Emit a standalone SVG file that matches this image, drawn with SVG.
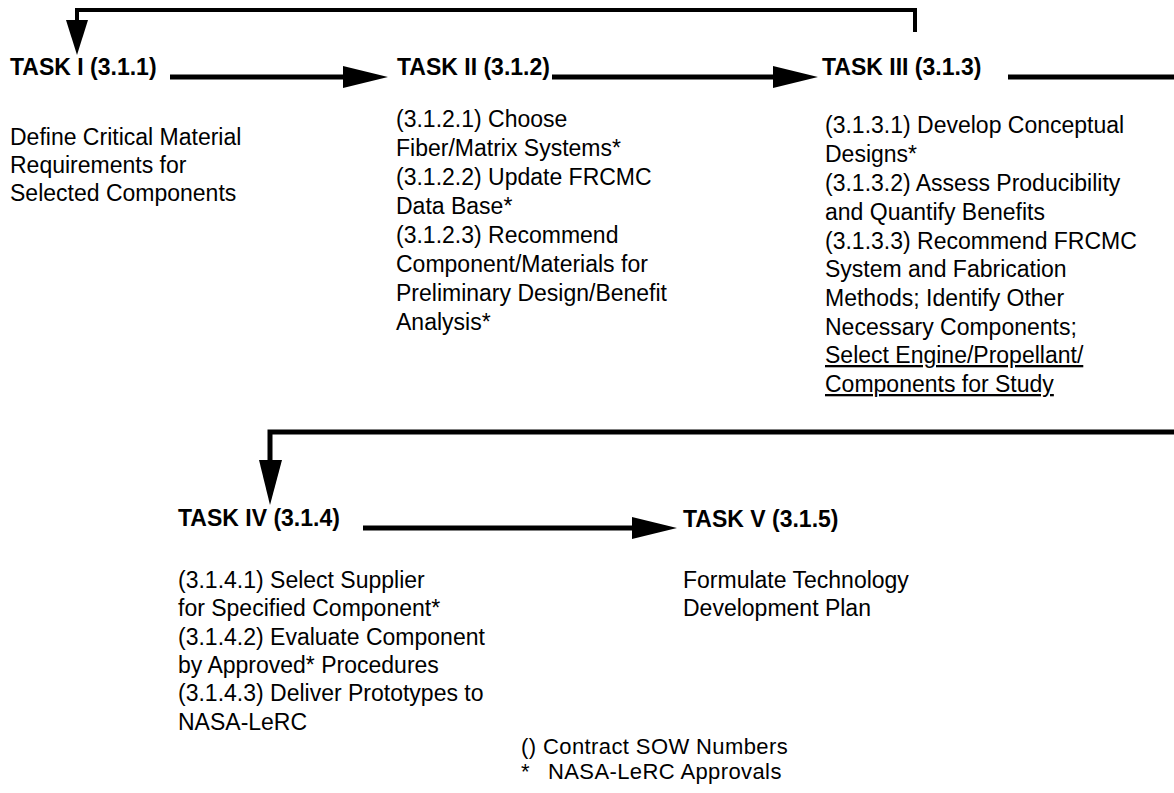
<svg xmlns="http://www.w3.org/2000/svg" width="1174" height="793" viewBox="0 0 1174 793">
<style>
.h{font-family:"Liberation Sans",Arial,sans-serif;font-weight:bold;font-size:23px;fill:#000}
.b{font-family:"Liberation Sans",Arial,sans-serif;font-size:23px;fill:#000}
.lg{font-family:"Liberation Sans",Arial,sans-serif;font-size:22px;fill:#000;letter-spacing:0.4px}
.ln{stroke:#000;fill:none;stroke-width:5}
.fb{stroke:#000;fill:none;stroke-width:4}
.ah{fill:#000;stroke:none}
</style>
<rect width="1174" height="793" fill="#fff"/>
<g id="connectors">
  <polyline class="fb" points="915,32 915,10 77,10 77,22"/>
  <polygon class="ah" points="66,20 88,20 77,55"/>
  <line class="ln" x1="170" y1="77" x2="345" y2="77"/>
  <polygon class="ah" points="343,66 343,88 388,77"/>
  <line class="ln" x1="552" y1="77" x2="775" y2="77"/>
  <polygon class="ah" points="773,66 773,88 818,77"/>
  <line class="ln" x1="1008" y1="77" x2="1174" y2="77"/>
  <polyline class="ln" points="1174,432 270,432 270,462"/>
  <polygon class="ah" points="259,460 282,460 270,505"/>
  <line class="ln" x1="363" y1="528" x2="634" y2="528"/>
  <polygon class="ah" points="632,517 632,539 677,528"/>
</g>
<g id="task1">
  <text class="h" x="10" y="75">TASK I (3.1.1)</text>
  <text class="b" x="10" y="145">Define Critical Material</text>
  <text class="b" x="10" y="173">Requirements for</text>
  <text class="b" x="10" y="201">Selected Components</text>
</g>
<g id="task2">
  <text class="h" x="397" y="75">TASK II (3.1.2)</text>
  <text class="b" x="396" y="127">(3.1.2.1) Choose</text>
  <text class="b" x="396" y="156">Fiber/Matrix Systems*</text>
  <text class="b" x="396" y="185">(3.1.2.2) Update FRCMC</text>
  <text class="b" x="396" y="214">Data Base*</text>
  <text class="b" x="396" y="243">(3.1.2.3) Recommend</text>
  <text class="b" x="396" y="272">Component/Materials for</text>
  <text class="b" x="396" y="301">Preliminary Design/Benefit</text>
  <text class="b" x="396" y="330">Analysis*</text>
</g>
<g id="task3">
  <text class="h" x="822" y="75">TASK III (3.1.3)</text>
  <text class="b" x="825" y="133">(3.1.3.1) Develop Conceptual</text>
  <text class="b" x="825" y="162">Designs*</text>
  <text class="b" x="825" y="191">(3.1.3.2) Assess Producibility</text>
  <text class="b" x="825" y="220">and Quantify Benefits</text>
  <text class="b" x="825" y="249">(3.1.3.3) Recommend FRCMC</text>
  <text class="b" x="825" y="277">System and Fabrication</text>
  <text class="b" x="825" y="306">Methods; Identify Other</text>
  <text class="b" x="825" y="335">Necessary Components;</text>
  <text class="b" x="825" y="363" text-decoration="underline">Select Engine/Propellant/</text>
  <text class="b" x="825" y="392" text-decoration="underline">Components for Study</text>
</g>
<g id="task4">
  <text class="h" x="178" y="526">TASK IV (3.1.4)</text>
  <text class="b" x="178" y="588">(3.1.4.1) Select Supplier</text>
  <text class="b" x="178" y="616">for Specified Component*</text>
  <text class="b" x="178" y="645">(3.1.4.2) Evaluate Component</text>
  <text class="b" x="178" y="673">by Approved* Procedures</text>
  <text class="b" x="178" y="701">(3.1.4.3) Deliver Prototypes to</text>
  <text class="b" x="178" y="730">NASA-LeRC</text>
</g>
<g id="task5">
  <text class="h" x="683" y="527">TASK V (3.1.5)</text>
  <text class="b" x="683" y="588">Formulate Technology</text>
  <text class="b" x="683" y="616">Development Plan</text>
</g>
<g id="legend">
  <text class="lg" x="521" y="754">() Contract SOW Numbers</text>
  <text class="lg" x="521" y="779">*</text>
  <text class="lg" x="548" y="779">NASA-LeRC Approvals</text>
</g>
</svg>
